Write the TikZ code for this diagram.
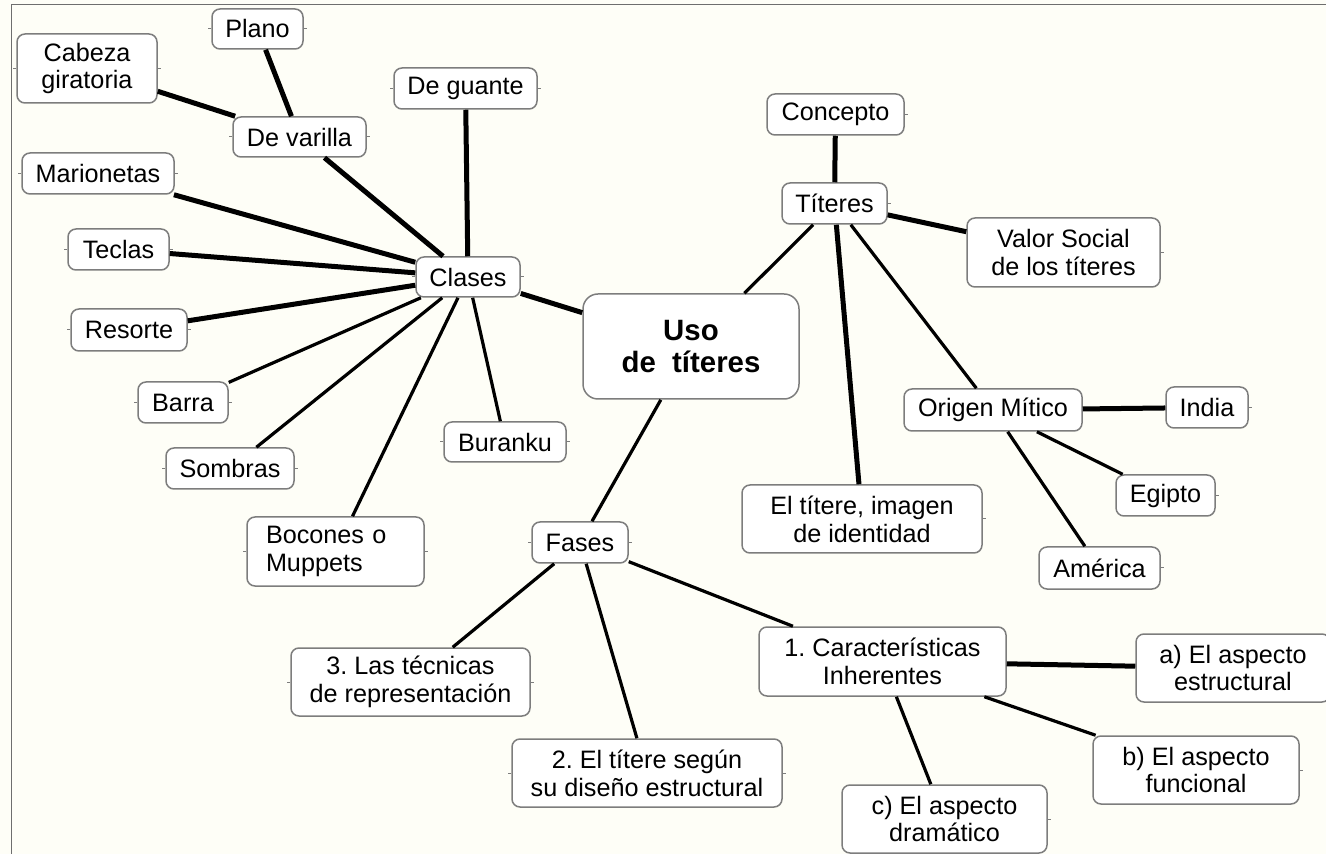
\documentclass[tikz,border=0pt]{standalone}
\usepackage{fontspec}
\setmainfont{Liberation Sans}
\frenchspacing
\definecolor{bg}{RGB}{254,254,247}
\definecolor{boxgray}{RGB}{125,125,125}
\definecolor{framegray}{RGB}{110,110,110}
\tikzset{
  box/.style={draw=boxgray, fill=white, rounded corners=4pt, line width=0.75pt,
    inner sep=0pt, align=center, font=\fontsize{12.6}{13.9}\selectfont},
  sz/.style 2 args={minimum width=#1*0.5pt, minimum height=#2*0.5pt},
  thickline/.style={line width=2.5pt, black},
  thinline/.style={line width=1.6pt, black},
  tick/.style={draw=boxgray, line width=0.5pt}
}
\begin{document}
\begin{tikzpicture}[x=0.5pt,y=-0.5pt]
\useasboundingbox (0,0) rectangle (1326,854);
\fill[bg] (0,0) rectangle (1326,854);
\draw[framegray, line width=0.75pt] (11.5,854) -- (11.5,4.5) -- (1326,4.5);

% left branch
\node[box, sz={91}{40}]   (plano)   at (257.5,29)   {Plano};
\node[box, sz={140}{69}]  (cabeza)  at (87,68.5)    {Cabeza\\giratoria};
\node[box, sz={133}{40}]  (varilla) at (299.5,137)  {De varilla};
\node[box, sz={152}{41}]  (marion)  at (98,173.5)   {Marionetas};
\node[box, sz={143}{41}]  (guante)  at (465.5,88.5) {De guante};
\node[box, sz={101}{41}]  (teclas)  at (118.5,249.5){Teclas};
\node[box, sz={116}{42}]  (resorte) at (129,330)    {Resorte};
\node[box, sz={90}{41}]   (barra)   at (183,402.5)  {Barra};
\node[box, sz={128}{41}]  (sombras) at (230,468.5)  {Sombras};
\node[box, sz={177}{69}, align=left, text width=69.5pt, inner xsep=9.5pt] (bocones) at (335.5,551.5) {Bocones o\\Muppets};
\node[box, sz={104}{40}]  (clases)  at (468,277)    {Clases};
\node[box, sz={122}{40}]  (buranku) at (505,442)    {Buranku};

% center
\node[box, sz={216}{105}, rounded corners=7.5pt, font=\fontsize{14.7}{16}\selectfont\bfseries] (uso) at (691,346.5) {Uso\\de\ \ títeres};

% right branch
\node[box, sz={137}{41}]  (concepto) at (835.5,114.5) {Concepto};
\node[box, sz={105}{41}]  (titeres)  at (834.5,203.5) {Títeres};
\node[box, sz={193}{69}]  (valor)    at (1063.5,252.5){Valor Social\\de los títeres};
\node[box, sz={178}{42}]  (origen)   at (993,410)     {Origen Mítico};
\node[box, sz={82}{41}]   (india)    at (1207,407.5)  {India};
\node[box, sz={99}{41}]   (egipto)   at (1165.5,495.5){Egipto};
\node[box, sz={121}{42}]  (america)  at (1099.5,568)  {América};
\node[box, sz={240}{68}]  (imagen)   at (862,519)     {El títere, imagen\\de identidad};

% bottom branch
\node[box, sz={96}{41}]   (fases)    at (580,542.5)   {Fases};
\node[box, sz={239}{68}]  (tecnicas) at (410.5,682)   {3. Las técnicas\\de representación};
\node[box, sz={270}{68}]  (segun)    at (647,773)     {2. El títere según\\su diseño estructural};
\node[box, sz={247}{69}]  (caract)   at (882.5,661.5) {1. Características\\Inherentes};
\node[box, sz={194}{68}]  (aest)     at (1233,668)    {a) El aspecto\\estructural};
\node[box, sz={206}{68}]  (bfunc)    at (1196,770)    {b) El aspecto\\funcional};
\node[box, sz={205}{68}]  (cdram)    at (944.5,819)   {c) El aspecto\\dramático};

% ticks
\foreach \n in {plano,cabeza,varilla,marion,guante,teclas,resorte,barra,sombras,bocones,clases,buranku,fases,tecnicas,segun}{
  \draw[tick] (\n.west) -- ++(-1.75pt,0);
  \draw[tick] (\n.east) -- ++(1.75pt,0);
}
\foreach \n in {concepto,titeres,valor,india,egipto,america,imagen,bfunc,cdram}{
  \draw[tick] (\n.east) -- ++(1.75pt,0);
}

% connectors
\draw[thickline] (plano) -- (varilla);
\draw[thickline] (cabeza) -- (varilla);
\draw[thickline] (varilla) -- (clases);
\draw[thickline] (marion) -- (clases);
\draw[thickline] (guante) -- (clases);
\draw[thickline] (teclas) -- (clases);
\draw[thickline] (resorte) -- (clases);
\draw[thinline] (barra) -- (clases);
\draw[thinline] (sombras) -- (clases);
\draw[thinline] (bocones) -- (clases);
\draw[thinline] (buranku) -- (clases);
\draw[thickline] (clases) -- (uso);

\draw[thinline] (uso) -- (titeres);
\draw[thickline] (concepto) -- (titeres);
\draw[thickline] (titeres) -- (valor);
\draw[thickline] (titeres) -- (imagen);
\draw[thinline] (titeres) -- (origen);
\draw[thickline] (origen) -- (india);
\draw[thinline] (origen) -- (egipto);
\draw[thinline] (origen) -- (america);

\draw[thinline] (uso) -- (fases);
\draw[thinline] (fases) -- (tecnicas);
\draw[thinline] (fases) -- (segun);
\draw[thinline] (fases) -- (caract);
\draw[thickline] (caract) -- (aest);
\draw[thinline] (caract) -- (bfunc);
\draw[thinline] (caract) -- (cdram);
\end{tikzpicture}
\end{document}
